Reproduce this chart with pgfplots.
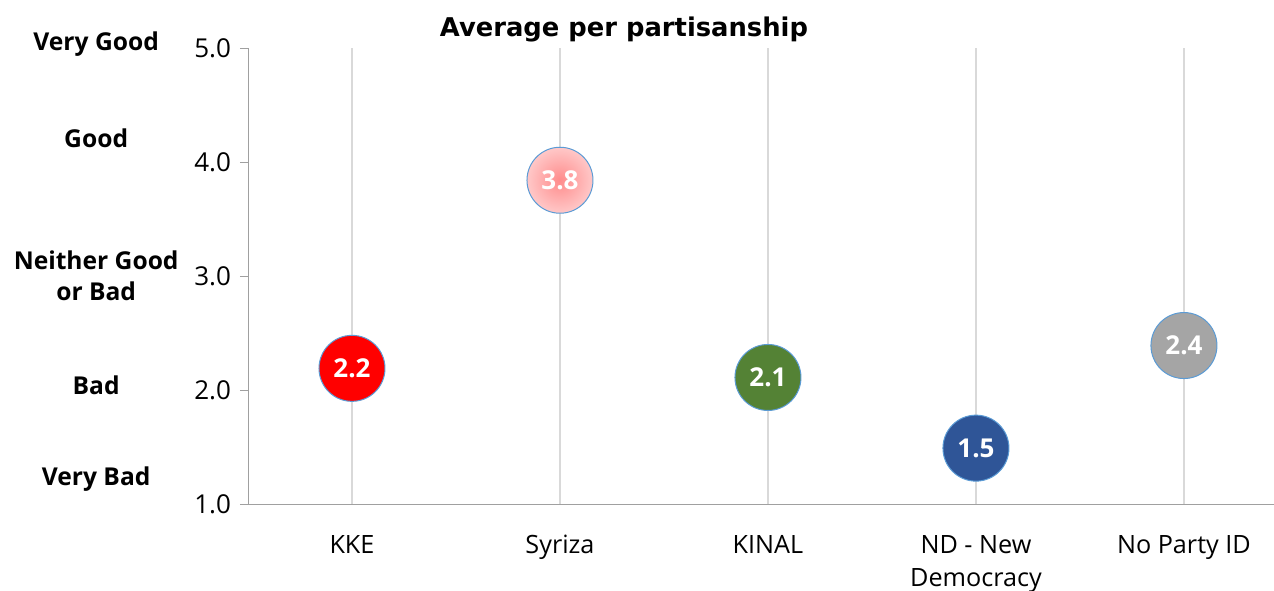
\documentclass[border=0pt]{standalone}
\usepackage{pgfplots}
\pgfplotsset{compat=1.18}
\usepackage{fontspec}
\setmainfont{Open Sans}
\newfontfamily\titlefont{DejaVu Sans}

\definecolor{kke}{HTML}{FF0000}
\definecolor{kinal}{HTML}{548235}
\definecolor{nd}{HTML}{2F5597}
\definecolor{noparty}{HTML}{A5A5A5}
\definecolor{syrin}{HTML}{FF8C8C}
\definecolor{syrout}{HTML}{FFC8C8}
\definecolor{edge}{HTML}{5B9BD5}
\definecolor{gridc}{HTML}{D9D9D9}
\definecolor{axisc}{HTML}{A0A0A0}

\pgfplotsset{
  bubble/.style={only marks, mark=none, point meta=y,
    nodes near coords={\pgfmathprintnumber[fixed,precision=1,fixed zerofill,assume math mode=true]{\pgfplotspointmeta}},
    nodes near coords style={anchor=center, circle, inner sep=0pt, minimum size=33pt,
        draw=edge, line width=0.5pt, text=white, font=\bfseries\fontsize{13}{15}\selectfont, #1}},
}

\begin{document}
\begin{tikzpicture}
\useasboundingbox (0,0) rectangle (637pt,295pt);
\node[font=\titlefont\bfseries\fontsize{12.9}{15}\selectfont, anchor=base] at (312pt,276.5pt) {Average per partisanship};
\begin{axis}[
    at={(124pt,43pt)}, anchor=south west,
    scale only axis,
    width=513pt, height=228pt,
    xmin=-0.5, xmax=4.433,
    ymin=1, ymax=5,
    clip=false,
    axis lines=left,
    axis line style={axisc, -},
    xtick={0,...,4},
    xticklabels={KKE, Syriza, KINAL, {ND - New\\Democracy}, No Party ID},
    xticklabel style={align=center, font=\fontsize{12.6}{16.5}\selectfont},
    xticklabel shift=8pt,
    x tick style={draw=none},
    xmajorgrids,
    grid style={gridc, line width=0.6pt},
    ytick={1,...,5},
    y tick style={axisc},
    tick align=outside,
    major tick length=4pt,
    yticklabel style={font=\fontsize{13}{15}\selectfont},
    yticklabel shift=1pt,
    y tick label style={/pgf/number format/.cd, fixed, fixed zerofill, precision=1, assume math mode=true},
]
% one bubble per partisanship group, labelled with its average
\addplot[bubble={fill=kke}] coordinates {(0,2.19)};
\addplot[bubble={inner color=syrin, outer color=syrout}] coordinates {(1,3.84)};
\addplot[bubble={fill=kinal}] coordinates {(2,2.11)};
\addplot[bubble={fill=nd}] coordinates {(3,1.49)};
\addplot[bubble={fill=noparty}] coordinates {(4,2.39)};

% verbal scale beside the numeric ticks
\begin{scope}[every node/.style={font=\bfseries\fontsize{12.3}{15.5}\selectfont, align=center}]
\node at (axis cs:-1.23,5.03) {Very Good};
\node at (axis cs:-1.23,4.21) {Good};
\node at (axis cs:-1.23,3.00) {Neither Good\\or Bad};
\node at (axis cs:-1.23,2.04) {Bad};
\node at (axis cs:-1.23,1.22) {Very Bad};
\end{scope}
\end{axis}
\end{tikzpicture}
\end{document}
